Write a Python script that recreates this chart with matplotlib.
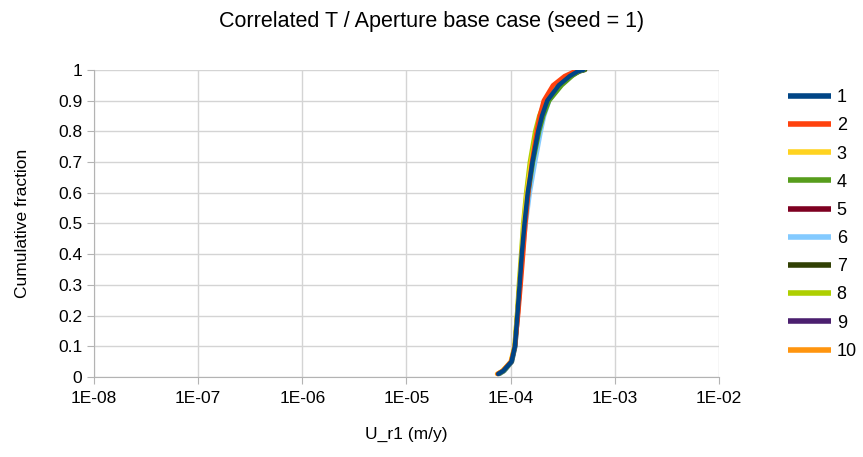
import numpy as np
import matplotlib
matplotlib.use('Agg')
import matplotlib.pyplot as plt
from matplotlib.ticker import FixedLocator, FuncFormatter

plt.rcParams['font.family'] = ['Liberation Sans', 'DejaVu Sans']

# cumulative fraction levels shared by all realisations
frac = [0.01, 0.02, 0.05, 0.1, 0.2, 0.3, 0.4, 0.5, 0.6, 0.7, 0.8, 0.85, 0.9, 0.95, 0.98, 0.995, 1.0]

# U_r1 (m/y) per seed realisation
u_r1 = {
    '1':  [7.6e-5, 8.5e-5, 1.02e-4, 1.10e-4, 1.16e-4, 1.22e-4, 1.28e-4, 1.36e-4, 1.46e-4, 1.62e-4, 1.84e-4, 2.00e-4, 2.25e-4, 2.90e-4, 3.70e-4, 4.40e-4, 5.00e-4],
    '2':  [7.5e-5, 8.4e-5, 1.01e-4, 1.10e-4, 1.18e-4, 1.25e-4, 1.32e-4, 1.39e-4, 1.48e-4, 1.60e-4, 1.78e-4, 1.90e-4, 2.08e-4, 2.55e-4, 3.30e-4, 4.10e-4, 4.70e-4],
    '3':  [7.4e-5, 8.3e-5, 1.00e-4, 1.09e-4, 1.15e-4, 1.21e-4, 1.27e-4, 1.34e-4, 1.43e-4, 1.57e-4, 1.78e-4, 1.93e-4, 2.18e-4, 2.80e-4, 3.60e-4, 4.30e-4, 4.90e-4],
    '4':  [7.7e-5, 8.6e-5, 1.02e-4, 1.10e-4, 1.16e-4, 1.22e-4, 1.29e-4, 1.37e-4, 1.48e-4, 1.64e-4, 1.88e-4, 2.06e-4, 2.35e-4, 3.10e-4, 3.90e-4, 4.50e-4, 5.10e-4],
    '5':  [7.6e-5, 8.5e-5, 1.02e-4, 1.10e-4, 1.16e-4, 1.22e-4, 1.28e-4, 1.36e-4, 1.46e-4, 1.61e-4, 1.83e-4, 1.99e-4, 2.24e-4, 2.85e-4, 3.65e-4, 4.35e-4, 4.90e-4],
    '6':  [7.8e-5, 8.7e-5, 1.03e-4, 1.11e-4, 1.17e-4, 1.23e-4, 1.30e-4, 1.40e-4, 1.53e-4, 1.72e-4, 1.95e-4, 2.10e-4, 2.35e-4, 2.95e-4, 3.70e-4, 4.40e-4, 4.90e-4],
    '7':  [7.8e-5, 8.7e-5, 1.03e-4, 1.11e-4, 1.17e-4, 1.23e-4, 1.29e-4, 1.37e-4, 1.47e-4, 1.63e-4, 1.86e-4, 2.03e-4, 2.30e-4, 3.00e-4, 3.80e-4, 4.60e-4, 5.20e-4],
    '8':  [7.5e-5, 8.4e-5, 1.01e-4, 1.09e-4, 1.15e-4, 1.20e-4, 1.26e-4, 1.32e-4, 1.41e-4, 1.53e-4, 1.72e-4, 1.88e-4, 2.15e-4, 2.80e-4, 3.60e-4, 4.30e-4, 4.80e-4],
    '9':  [7.6e-5, 8.5e-5, 1.02e-4, 1.10e-4, 1.16e-4, 1.22e-4, 1.28e-4, 1.36e-4, 1.46e-4, 1.62e-4, 1.85e-4, 2.01e-4, 2.27e-4, 2.90e-4, 3.70e-4, 4.40e-4, 4.95e-4],
    '10': [7.5e-5, 8.4e-5, 1.01e-4, 1.10e-4, 1.16e-4, 1.23e-4, 1.29e-4, 1.36e-4, 1.45e-4, 1.59e-4, 1.80e-4, 1.94e-4, 2.15e-4, 2.70e-4, 3.45e-4, 4.20e-4, 4.70e-4],
}

colors = ['#004586', '#ff420e', '#ffd320', '#579d1c', '#7e0021',
          '#83caff', '#314004', '#aecf00', '#4b1f6f', '#ff950e']

fig = plt.figure(figsize=(8.63, 4.57), dpi=100)
ax = fig.add_axes([0.109, 0.175, 0.724, 0.672])

# seed 1 drawn last so it sits on top like the original
order = list(u_r1.keys())
handles = {}
for i, key in reversed(list(enumerate(order))):
    h, = ax.plot(u_r1[key], frac, color=colors[i], lw=3.2, solid_capstyle='round',
                 solid_joinstyle='round', zorder=3 + (10 - i))
    handles[key] = h

ax.set_xscale('log')
ax.set_xlim(1e-8, 1e-2)
ax.set_ylim(0, 1)
ax.xaxis.set_major_locator(FixedLocator([10.0 ** k for k in range(-8, -1)]))
ax.xaxis.set_minor_locator(FixedLocator([]))
ax.xaxis.set_major_formatter(FuncFormatter(lambda v, p: '1E-%02d' % round(-np.log10(v))))
ax.set_yticks(np.arange(0, 1.01, 0.1))
ax.yaxis.set_major_formatter(FuncFormatter(lambda v, p: '%g' % round(v, 1)))

ax.grid(True, color='#d4d4d4', lw=1)
ax.set_axisbelow(True)
for s in ['top', 'right']:
    ax.spines[s].set_visible(False)
for s in ['left', 'bottom']:
    ax.spines[s].set_color('#b3b3b3')
ax.tick_params(axis='both', colors='#b3b3b3', length=5, labelsize=12.5, labelcolor='black')
ax.tick_params(axis='x', pad=5)

ax.set_xlabel('U_r1 (m/y)', fontsize=12.5, labelpad=15)
ax.set_ylabel('Cumulative fraction', fontsize=12.5, labelpad=20)
fig.text(0.5, 0.954, 'Correlated T / Aperture base case (seed = 1)', ha='center', va='center', fontsize=15.5)

leg = fig.legend([handles[k] for k in order], order, loc='upper left',
                 bbox_to_anchor=(0.913, 0.805), frameon=False, fontsize=13,
                 handlelength=2.4, handletextpad=0.3, labelspacing=0.62,
                 borderaxespad=0, borderpad=0)
for line in leg.get_lines():
    line.set_linewidth(4)
    line.set_solid_capstyle('butt')

fig.savefig('out.png', dpi=100)
